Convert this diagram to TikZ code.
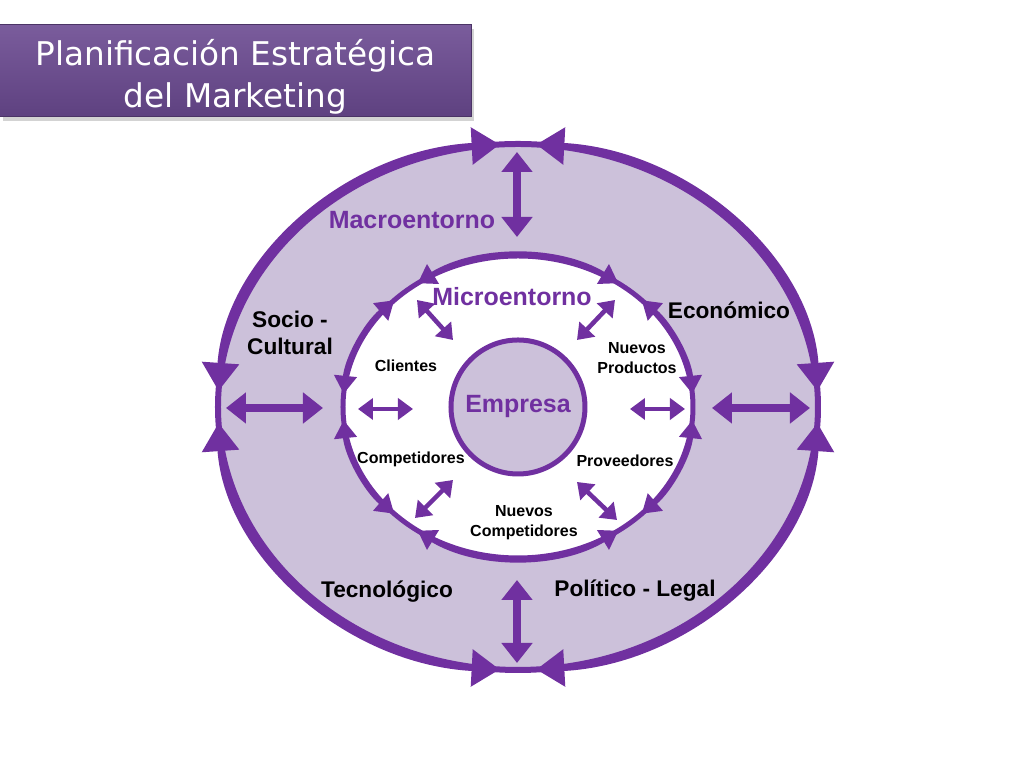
\documentclass[tikz,border=0pt]{standalone}
\usepackage{fontspec}
\setmainfont{Liberation Sans}
\newfontfamily\titlefont{DejaVu Sans}
\usepackage{tikz}
\usetikzlibrary{arrows.meta,positioning,shadows}
\definecolor{mkpurple}{HTML}{7030A0}
\definecolor{mklav}{HTML}{CCC1DA}
\definecolor{titletop}{HTML}{7A5C9C}
\definecolor{titlebot}{HTML}{5E4180}

\begin{document}
\begin{tikzpicture}[x=0.2mm, y=0.2mm,
		  ring/.style={draw=mkpurple, line width=1.2mm},
          outarc/.style={mkpurple, line width=1.2mm, {Triangle[length=5.6mm,width=7.2mm]}-{Triangle[length=5.6mm,width=7.2mm]}},
          inarc/.style={mkpurple, line width=1mm, {Triangle[length=3.6mm,width=4.4mm]}-{Triangle[length=3.6mm,width=4.4mm]}},
          big/.style={mkpurple, line width=1.5mm, {Triangle[length=4mm,width=6mm]}-{Triangle[length=4mm,width=6mm]}},
          small/.style={mkpurple, line width=0.9mm, {Triangle[length=3mm,width=4.2mm]}-{Triangle[length=3mm,width=4.2mm]}},
          env/.style={font=\fontsize{12.9}{15.5}\selectfont\bfseries, align=center, inner sep=1pt},
          head/.style={font=\fontsize{14.2}{17}\selectfont\bfseries, text=mkpurple, inner sep=1pt},
          actor/.style={font=\fontsize{9.1}{11.5}\selectfont\bfseries, align=center, inner sep=1pt},
		]
			\useasboundingbox (-518,-361) rectangle (506,407);
			% title
			\node[draw=titlebot!80!black, line width=0.2mm, top color=titletop, bottom color=titlebot,
                minimum width=94.2mm, minimum height=18.4mm, drop shadow={shadow xshift=0.6mm, shadow yshift=-0.8mm, opacity=0.35}]
                (title) at (-282.5,336) {};
			\node[text=white, align=center, font=\titlefont\fontsize{18.6}{23.8}\selectfont, yshift=-1.1mm]
                (titletext) at (title.center) {Planificación Estratégica\\del Marketing};
			% rings
			\coordinate (c) at (0,0);
			\draw[ring, fill=mklav] (c) ellipse [x radius=300, y radius=263];
			\foreach \a in {0,90,180,270}
				\draw[outarc] (\a+3.5:300 and 263) arc[start angle=\a+3.5, end angle=\a+86.5, x radius=300, y radius=263];
			\draw[ring, line width=1mm, fill=white] (c) ellipse [x radius=175, y radius=151];
			\foreach \s/\e in {5/45, 55/125, 135/175, 185/225, 235/305, 315/355}
				\draw[inarc] (\s:175 and 151) arc[start angle=\s, end angle=\e, x radius=175, y radius=151];
			\node[circle, draw=mkpurple, line width=1mm, fill=mklav, minimum size=26.8mm, inner sep=0pt,
                head] (empresa) at (c) {Empresa};
			% labels
			\node[head] (macro) at (-106,187) {Macroentorno};
			\node[head] (micro) at (-6,110) {Microentorno};
			\node[env] (socio) at (-228,74) {Socio -\\Cultural};
			\node[env] (econ) at (211,97) {Económico};
			\node[env] (tecno) at (-131,-185) {Tecnológico};
			\node[env] (poli) at (117,-184) {Político - Legal};
			\node[actor] (clientes) at (-112,41) {Clientes};
			\node[actor] (nprod) at (119,49) {Nuevos\\Productos};
			\node[actor] (compet) at (-107,-52) {Competidores};
			\node[actor] (provee) at (107,-54) {Proveedores};
			\node[actor] (ncomp) at (6,-116) {Nuevos\\Competidores};
			% arrow ends
			\coordinate (top1) at (-1,255);   \coordinate (top2) at (-1,170);
			\coordinate (bot1) at (-1,-173);  \coordinate (bot2) at (-1,-256);
			\coordinate (lft1) at (-292,-1);  \coordinate (lft2) at (-195,-1);
			\coordinate (rgt1) at (194,-1);   \coordinate (rgt2) at (292,-1);
			\coordinate (sl1) at (-160,-2);   \coordinate (sl2) at (-105,-2);
			\coordinate (sr1) at (112,-2);    \coordinate (sr2) at (167,-2);
			\coordinate (tl1) at (-101,107);  \coordinate (tl2) at (-65,67);
			\coordinate (tr1) at (97,107);    \coordinate (tr2) at (59,67);
			\coordinate (bl1) at (-103,-111); \coordinate (bl2) at (-65,-73);
			\coordinate (br1) at (59,-75);    \coordinate (br2) at (99,-113);
			\draw[big] (top1) -- (top2);
			\draw[big] (bot1) -- (bot2);
			\draw[big] (lft1) -- (lft2);
			\draw[big] (rgt1) -- (rgt2);
			\foreach \p in {sl,sr,tl,tr,bl,br}
				\draw[small] (\p1) -- (\p2);

		 \end{tikzpicture}
\end{document}
